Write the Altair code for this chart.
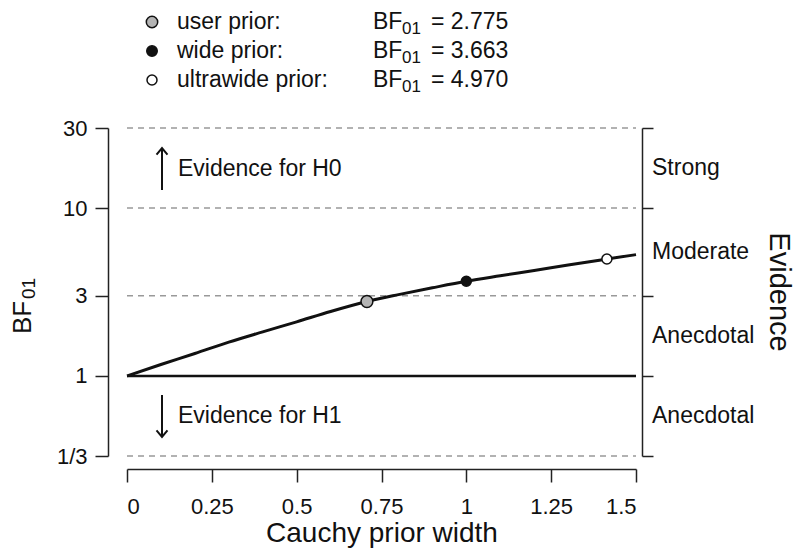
import altair as alt
import pandas as pd

# ---- data ----
prior_width = [0, 0.1, 0.2, 0.3, 0.4, 0.5, 0.6, 0.7071, 0.8, 0.9, 1.0, 1.1, 1.2, 1.3, 1.4142, 1.5]
bf01 = [1.0, 1.17, 1.36, 1.59, 1.83, 2.10, 2.42, 2.775, 3.05, 3.35, 3.663, 3.95, 4.25, 4.58, 4.970, 5.28]

point_width = [0.7071, 1.0, 1.4142]
point_bf = [2.775, 3.663, 4.970]
point_fill = ["#b4b4b4", "#111111", "#ffffff"]
point_size = [140, 100, 100]
legend_names = ["user prior:", "wide prior:", "ultrawide prior:"]
legend_values = ["2.775", "3.663", "4.970"]

ref_levels = [30, 10, 3, 1 / 3]
y_tick_values = [1 / 3, 1, 3, 10, 30]
y_tick_labels = ["1/3", "1", "3", "10", "30"]
x_tick_values = [0, 0.25, 0.5, 0.75, 1, 1.25, 1.5]
x_tick_labels = ["0", "0.25", "0.5", "0.75", "1", "1.25", "1.5"]

evidence_labels = ["Strong", "Moderate", "Anecdotal", "Anecdotal"]
evidence_pos = [17.32, 5.477, 1.732, 0.577]

FONT = "Liberation Sans"
W, H = 509, 328
YDOM = [1 / 3, 30]

curve_df = pd.DataFrame({"r": prior_width, "bf": bf01})
pts_df = pd.DataFrame({"r": point_width, "bf": point_bf, "fill": point_fill, "size": point_size})
ref_df = pd.DataFrame({"bf": ref_levels})
one_df = pd.DataFrame({"r": [0, 1.5], "bf": [1, 1]})
ev_df = pd.DataFrame({"label": evidence_labels, "pos": evidence_pos})


def make_expr(values, labels):
    return " : ".join(
        f"abs(datum.value - {v}) < 1e-6 ? '{l}'" for v, l in zip(values, labels)
    ) + " : ''"


yscale = alt.Scale(type="log", domain=YDOM)
xscale = alt.Scale(domain=[0, 1.5], nice=False)

xaxis = alt.Axis(
    values=x_tick_values, labelExpr=make_expr(x_tick_values, x_tick_labels),
    offset=13, tickSize=13, tickWidth=1.5, labelOverlap=False,
    domainWidth=1.5, domainColor="#222", tickColor="#222",
    labelFontSize=22, labelPadding=14, labelColor="#111", labelFont=FONT,
    title="Cauchy prior width", titleFontSize=28, titleFont=FONT,
    titleFontWeight="normal", titlePadding=2, titleColor="#111", grid=False,
)
left_axis = alt.Axis(
    values=y_tick_values, labelExpr=make_expr(y_tick_values, y_tick_labels),
    offset=19, tickSize=13, labelOverlap=False,
    tickWidth=1.5, domainWidth=1.5, domainColor="#222", tickColor="#222",
    labelFontSize=22, labelPadding=8, labelColor="#111", labelFont=FONT,
    title=None, grid=False,
)
right_axis = alt.Axis(
    orient="right", values=y_tick_values, labels=False, offset=6, tickSize=11,
    tickWidth=1.5, domainWidth=1.5, domainColor="#222", tickColor="#222",
    title=None, grid=False,
)

X = alt.X("r:Q", scale=xscale, axis=xaxis)

refs = alt.Chart(ref_df).mark_rule(color="#999999", strokeWidth=1.5, strokeDash=[6, 5]).encode(
    y=alt.Y("bf:Q", scale=yscale, axis=None),
    x=alt.value(0), x2=alt.value(W),
)

one_line = alt.Chart(one_df).mark_line(color="#111", strokeWidth=2.5).encode(
    x=X,
    y=alt.Y("bf:Q", scale=yscale, axis=None),
)

curve = alt.Chart(curve_df).mark_line(color="#111", strokeWidth=3, interpolate="monotone").encode(
    x=X,
    y=alt.Y("bf:Q", scale=yscale, axis=left_axis),
)

pts = alt.Chart(pts_df).mark_point(filled=True, stroke="#111", strokeWidth=1.5, opacity=1, shape="circle").encode(
    x=X,
    y=alt.Y("bf:Q", scale=yscale, axis=None),
    fill=alt.Fill("fill:N", scale=None),
    size=alt.Size("size:Q", scale=None),
)

ev = alt.Chart(ev_df).mark_text(align="left", baseline="middle", fontSize=23, font=FONT, color="#111").encode(
    y=alt.Y("pos:Q", scale=yscale, axis=right_axis),
    x=alt.value(525),
    text="label:N",
)

layers = [refs, one_line, curve, pts, ev]

# legend rows (baselines relative to the plot top)
row_base = [-99, -70, -41]
leg_sizes = [130, 110, 100]
for i in range(3):
    ldf = pd.DataFrame({"name": [legend_names[i]], "val": ["= " + legend_values[i]], "fill": [point_fill[i]]})
    layers.append(alt.Chart(ldf).mark_point(filled=True, stroke="#111", strokeWidth=1.5, opacity=1, size=leg_sizes[i], shape="circle").encode(
        x=alt.value(25), y=alt.value(row_base[i] - 7), fill=alt.Fill("fill:N", scale=None)))
    layers.append(alt.Chart(ldf).mark_text(align="left", baseline="alphabetic", fontSize=23, font=FONT, color="#111").encode(
        x=alt.value(50), y=alt.value(row_base[i]), text="name:N"))
    layers.append(alt.Chart(ldf).mark_text(align="left", baseline="alphabetic", fontSize=23, font=FONT, color="#111").encode(
        x=alt.value(246), y=alt.value(row_base[i]), text=alt.value("BF")))
    layers.append(alt.Chart(ldf).mark_text(align="left", baseline="alphabetic", fontSize=17, font=FONT, color="#111").encode(
        x=alt.value(275), y=alt.value(row_base[i] + 5), text=alt.value("01")))
    layers.append(alt.Chart(ldf).mark_text(align="left", baseline="alphabetic", fontSize=23, font=FONT, color="#111").encode(
        x=alt.value(304), y=alt.value(row_base[i]), text="val:N"))

# y-axis title BF01 (rotated)
layers.append(alt.Chart(ev_df.head(1)).mark_text(align="left", baseline="alphabetic", fontSize=26, font=FONT, angle=270, color="#111").encode(
    x=alt.value(-96), y=alt.value(206), text=alt.value("BF")))
layers.append(alt.Chart(ev_df.head(1)).mark_text(align="left", baseline="alphabetic", fontSize=19, font=FONT, angle=270, color="#111").encode(
    x=alt.value(-92), y=alt.value(171), text=alt.value("01")))

# right title "Evidence"
layers.append(alt.Chart(ev_df.head(1)).mark_text(align="center", baseline="middle", fontSize=29, font=FONT, angle=90, color="#111").encode(
    x=alt.value(652), y=alt.value(H / 2), text=alt.value("Evidence")))

# annotations with arrows
ann = [("Evidence for H0", 48, 20, 62, "M-1,1.2L0,0L1,1.2"), ("Evidence for H1", 295, 309, 267, "M-1,-1.2L0,0L1,-1.2")]
for text, ty, tip, tail, path in ann:
    adf = pd.DataFrame({"t": [text]})
    layers.append(alt.Chart(adf).mark_text(align="left", baseline="alphabetic", fontSize=23, font=FONT, color="#111").encode(
        x=alt.value(51), y=alt.value(ty), text="t:N"))
    layers.append(alt.Chart(adf).mark_rule(color="#111", strokeWidth=2).encode(
        x=alt.value(35), y=alt.value(tip), y2=alt.value(tail)))
    layers.append(alt.Chart(adf).mark_point(shape=path, size=120, stroke="#111", strokeWidth=2, filled=False, opacity=1).encode(
        x=alt.value(35), y=alt.value(tip)))

chart = alt.layer(*layers).resolve_scale(y="independent").properties(
    width=W, height=H,
    padding={"left": 119, "top": 120, "right": 159, "bottom": 93},
    autosize=alt.AutoSizeParams(type="none"),
    background="white",
).configure_view(stroke=None)

chart.save("out.html", embed_options={"renderer": "svg", "actions": False})
